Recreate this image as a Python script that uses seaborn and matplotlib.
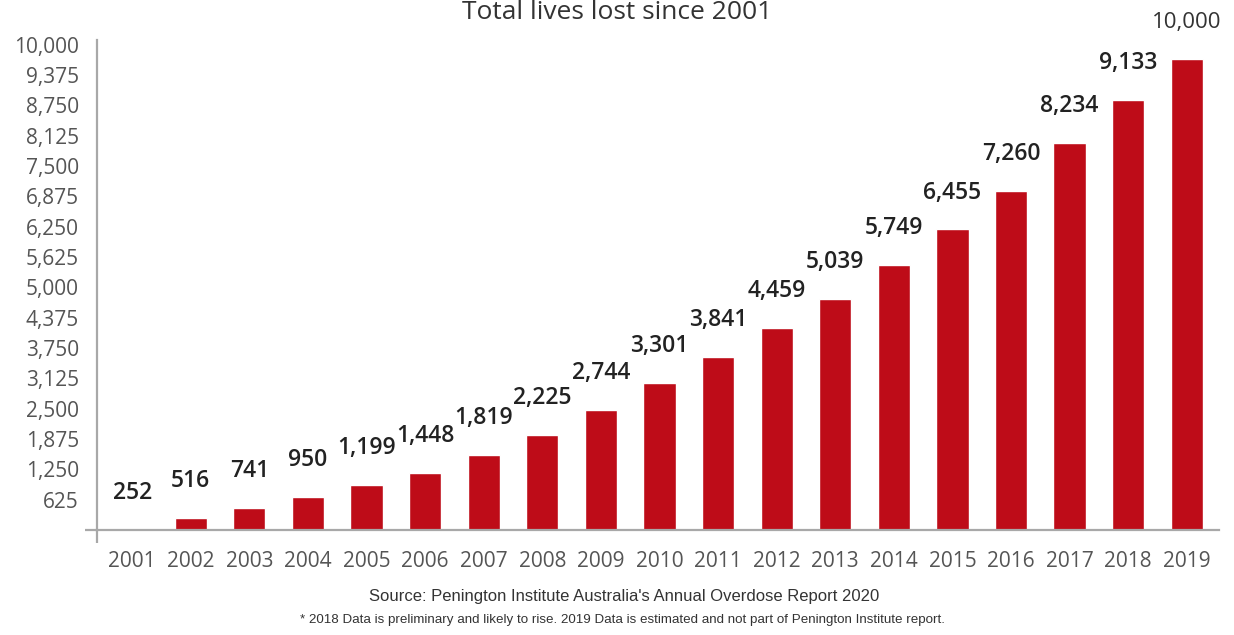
import matplotlib
matplotlib.use("Agg")
import matplotlib.pyplot as plt
import seaborn as sns
import pandas as pd

years = [str(y) for y in range(2001, 2020)]
bar_heights = [0, 250, 455, 680, 930, 1180, 1550, 1960, 2480, 3035, 3570,
               4170, 4770, 5470, 6195, 6980, 7970, 8865, 9705]
value_labels = ["252", "516", "741", "950", "1,199", "1,448", "1,819", "2,225",
                "2,744", "3,301", "3,841", "4,459", "5,039", "5,749", "6,455",
                "7,260", "8,234", "9,133", "10,000"]
y_ticks = [625 * k for k in range(1, 17)]
y_tick_labels = [f"{v:,}" for v in y_ticks]

title = "Total lives lost since 2001"
source1 = "Source: Penington Institute Australia's Annual Overdose Report 2020"
source2 = ("* 2018 Data is preliminary and likely to rise. 2019 Data is estimated "
           "and not part of Penington Institute report.")

sns.set_theme(style="white")
plt.rcParams["font.family"] = ["Open Sans", "DejaVu Sans"]

df = pd.DataFrame({"year": years, "value": bar_heights})

fig = plt.figure(figsize=(12.34, 6.35), dpi=100)
ax = fig.add_axes([97 / 1234, 1 - 530 / 635, (1219 - 97) / 1234, 490 / 635])

sns.barplot(data=df, x="year", y="value", order=years, color="#BE0C18",
            saturation=1, width=0.55, ax=ax)

for i, (h, lab) in enumerate(zip(bar_heights, value_labels)):
    last = i == len(value_labels) - 1
    ax.annotate(lab, (i, h), xytext=(0, 26.6), textcoords="offset points",
                ha="center", va="center", fontsize=16 if last else 16.5,
                color="#333333" if last else "#222222",
                fontweight="normal" if last else 600)

ax.set_xlim(-0.6, 18.55)
ax.set_ylim(0, 10100)
ax.set_yticks(y_ticks)
ax.set_yticklabels(y_tick_labels)
ax.set_xlabel("")
ax.set_ylabel("")

for s in ["top", "right"]:
    ax.spines[s].set_visible(False)
for s in ["left", "bottom"]:
    ax.spines[s].set_color("#a8a8a8")
    ax.spines[s].set_linewidth(1.6)

ax.tick_params(axis="y", which="major", length=0, pad=13, labelsize=15,
               labelcolor="#555555")
ax.tick_params(axis="x", which="major", length=0, pad=15, labelsize=15,
               labelcolor="#555555")
ax.set_xticks([-0.6], minor=True)
ax.set_yticks([0], minor=True)
ax.tick_params(which="minor", length=9, width=1.6, color="#a8a8a8",
               direction="out", left=True, bottom=True)

fig.text(0.5, 1.0, title, ha="center", va="top", fontsize=19,
         color="#333333")
fig.text(624 / 1234, 1 - 597 / 635, source1, ha="center", va="center",
         fontsize=12, color="#333333", family=["Liberation Sans", "DejaVu Sans"])
fig.text(622 / 1234, 1 - 620 / 635, source2, ha="center", va="center",
         fontsize=9.6, color="#333333", family=["Liberation Sans", "DejaVu Sans"])

fig.savefig("out.png", dpi=100)
